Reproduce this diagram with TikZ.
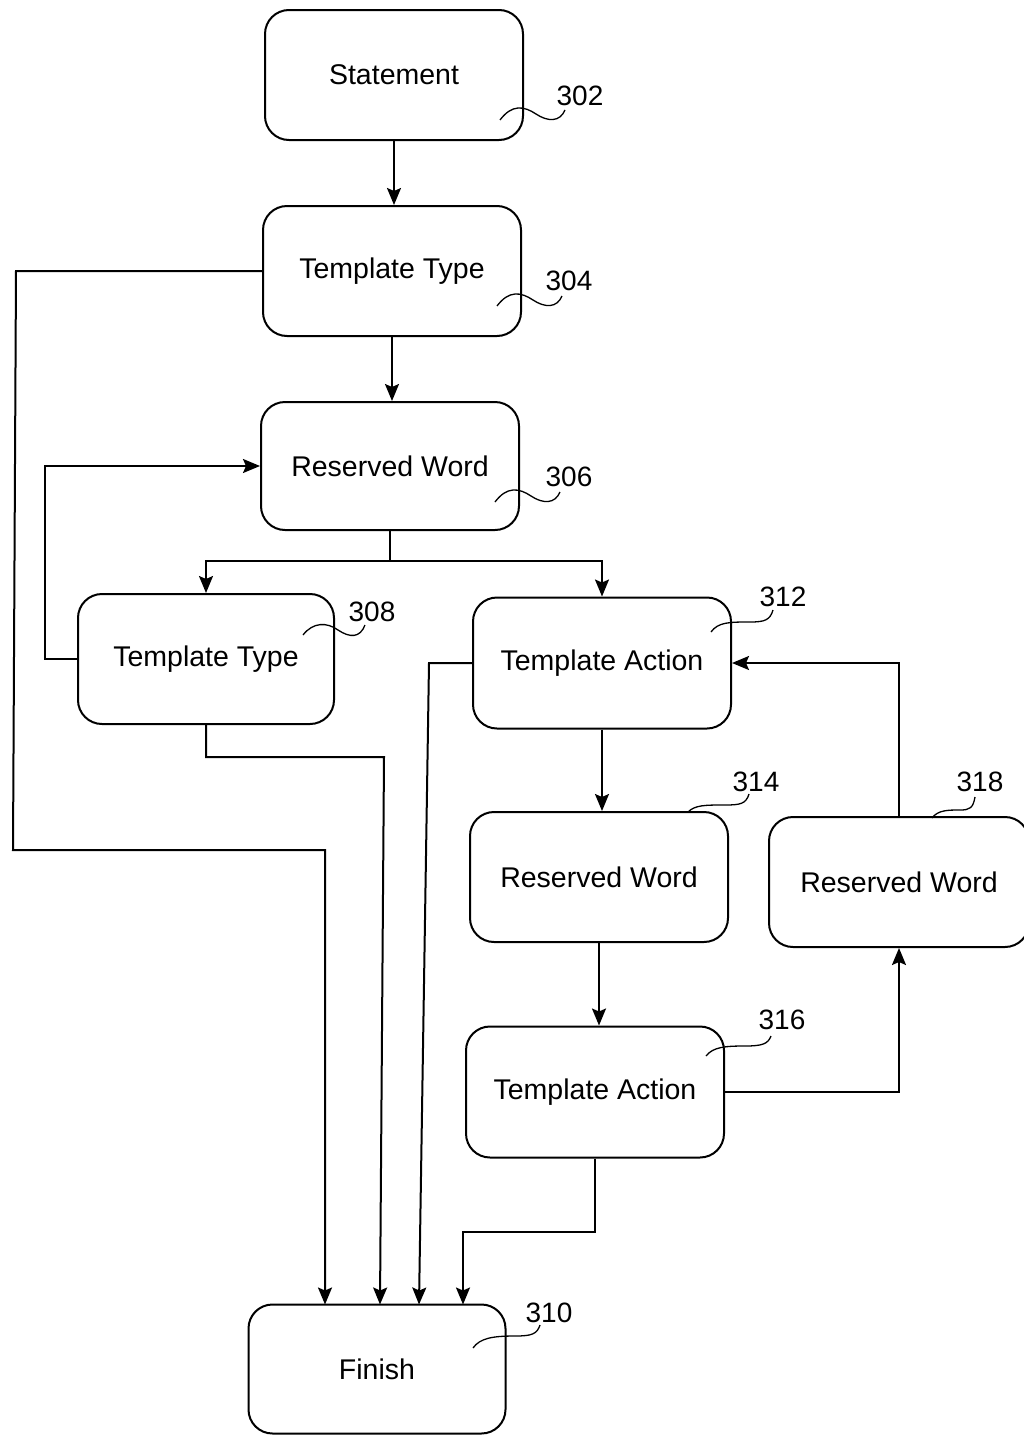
\documentclass[tikz,border=0pt]{standalone}
\usepackage{fontspec}
\setmainfont{Liberation Sans}
\usetikzlibrary{arrows.meta}
\begin{document}
\begin{tikzpicture}[x=1pt,y=-1pt,
  box/.style={draw, rounded corners=24pt, line width=2pt, minimum width=258pt, minimum height=130pt, inner sep=0pt, font=\fontsize{28.5}{34}\selectfont},
  lbl/.style={inner sep=0pt, font=\fontsize{28}{34}\selectfont},
  conn/.style={line width=2pt},
  arr/.style={line width=2pt, -{Stealth[length=17pt,width=14pt,inset=3pt]}},
  lead/.style={line width=1.3pt}]
\useasboundingbox (0,0) rectangle (1024,1435);
\clip (0,0) rectangle (1024,1435);
% boxes
\node[box] (n302) at (394,75) {Statement};
\node[box] (n304) at (392,271) {Template Type};
\node[box, minimum height=128pt] (n306) at (390,466) {Reserved Word};
\node[box, minimum width=256pt] (n308) at (206,659) {Template Type};
\node[box, minimum height=131pt] (n312) at (602,663) {Template Action};
\node[box] (n314) at (599,877) {Reserved Word};
\node[box, minimum width=260pt] (n318) at (899,882) {Reserved Word};
\node[box, minimum height=131pt] (n316) at (595,1092) {Template Action};
\node[box, minimum width=257pt, minimum height=129pt] (n310) at (377,1369) {Finish};
% reference numbers
\node[lbl] (l302) at (580,96) {302};
\node[lbl] (l304) at (569,281) {304};
\node[lbl] (l306) at (569,477) {306};
\node[lbl] (l308) at (372,612) {308};
\node[lbl] (l312) at (783,597) {312};
\node[lbl] (l314) at (756,782) {314};
\node[lbl] (l318) at (980,782) {318};
\node[lbl] (l316) at (782,1020) {316};
\node[lbl] (l310) at (549,1313) {310};
% leaders
\draw[lead] (500,120) .. controls (512,104) and (524,106) .. (536,114) .. controls (548,122) and (560,122) .. (565,110);
\draw[lead] (497,306) .. controls (509,290) and (521,292) .. (533,300) .. controls (545,308) and (557,308) .. (562,296);
\draw[lead] (495,502) .. controls (507,486) and (519,488) .. (531,496) .. controls (543,504) and (555,504) .. (560,492);
\draw[lead] (303,635) .. controls (313,622) and (327,622) .. (338,630) .. controls (350,638) and (360,638) .. (365,625);
\draw[lead] (711,632) .. controls (718,622) and (730,622) .. (750,622) .. controls (765,622) and (770,620) .. (773,610);
\draw[lead] (688,812) .. controls (695,805) and (705,805) .. (725,805) .. controls (740,805) and (746,804) .. (749,794);
\draw[lead] (932,818) .. controls (938,810) and (948,810) .. (960,810) .. controls (970,810) and (973,808) .. (975,797);
\draw[lead] (706,1056) .. controls (713,1047) and (725,1046) .. (745,1046) .. controls (762,1046) and (768,1044) .. (771,1036);
\draw[lead] (473,1348) .. controls (480,1338) and (493,1336) .. (515,1336) .. controls (532,1336) and (537,1334) .. (540,1325);
% connector end points on Finish
\coordinate (f1) at (325,1304.5);
\coordinate (f2) at (380,1304.5);
\coordinate (f3) at (419,1304.5);
\coordinate (f4) at (463,1304.5);
\coordinate (j) at (390,561);
% connectors
\draw[arr] (n302.south) -- (n302.south |- n304.north);
\draw[arr] (n304.west) -- (16,271) -- (13,850) -| (f1);
\draw[arr] (n304.south) -- (n304.south |- n306.north);
\draw[conn] (n306.south) -- (j);
\draw[arr] (j) -| (n308.north);
\draw[arr] (j) -| (n312.north);
\draw[arr] (n308.west) -- (45,659) |- (n306.west);
\draw[arr] (n308.south) |- (384,757) -- (f2);
\draw[arr] (n312.west) -- (429,663) -- (f3);
\draw[arr] (n312.south) -- (n312.south |- n314.north);
\draw[arr] (n314.south) -- (n314.south |- n316.north);
\draw[arr] (n316.east) -| (n318.south);
\draw[arr] (n318.north) |- (n312.east);
\draw[arr] (n316.south) |- (463,1232) -- (f4);
\end{tikzpicture}
\end{document}
